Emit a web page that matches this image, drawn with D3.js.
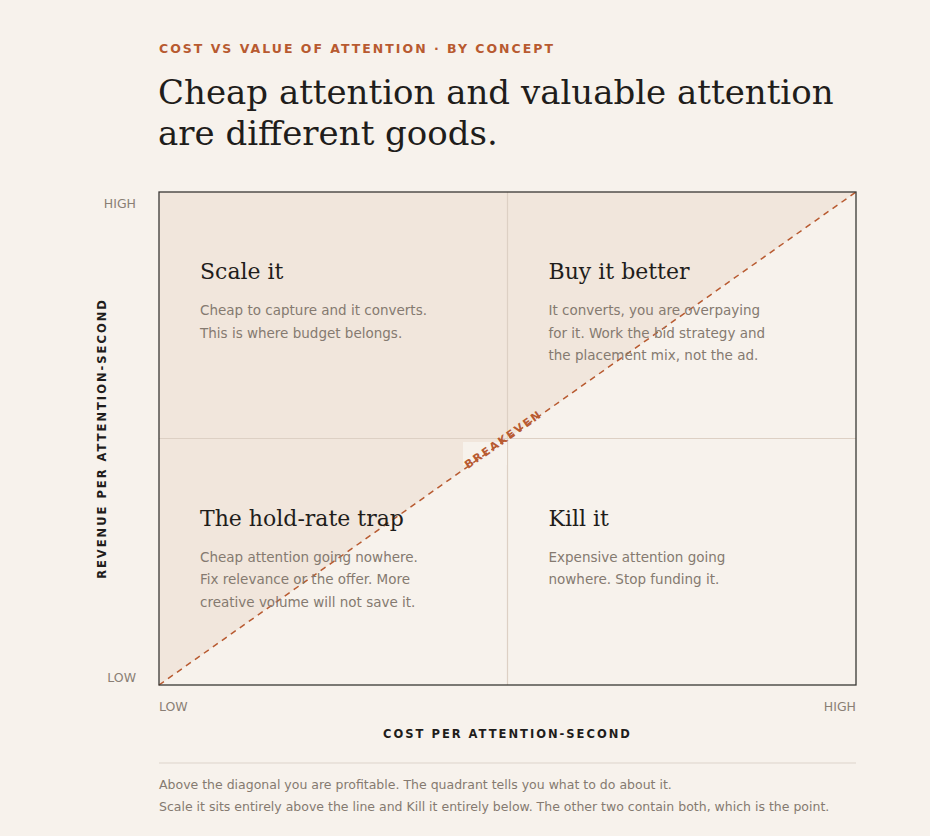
<!DOCTYPE html><html><head><meta charset="utf-8"><script src="https://cdn.jsdelivr.net/npm/d3@7"></script>
<style>body{margin:0;background:#f7f2ec;}svg{display:block}</style></head><body><svg id="c" width="930" height="836"></svg>
<script>
const axisTicks=["LOW","HIGH"];
const quadrants=[
 {cx:0,cy:1,title:"Scale it",lines:["Cheap to capture and it converts.","This is where budget belongs."]},
 {cx:1,cy:1,title:"Buy it better",lines:["It converts, you are overpaying","for it. Work the bid strategy and","the placement mix, not the ad."]},
 {cx:0,cy:0,title:"The hold-rate trap",lines:["Cheap attention going nowhere.","Fix relevance or the offer. More","creative volume will not save it."]},
 {cx:1,cy:0,title:"Kill it",lines:["Expensive attention going","nowhere. Stop funding it."]}
];
const breakeven=[[0,0],[1,1]];
const notes=["Above the diagonal you are profitable. The quadrant tells you what to do about it.","Scale it sits entirely above the line and Kill it entirely below. The other two contain both, which is the point."];
const svg=d3.select("#c");
const L=159,R=856,T=192,B=685;
const x=d3.scaleLinear().domain([0,1]).range([L,R]);
const y=d3.scaleLinear().domain([0,1]).range([B,T]);
const sans="'DejaVu Sans',sans-serif", serif="'DejaVu Serif',serif";
svg.append("text").attr("x",159).attr("y",53).attr("fill","#b85a30").attr("font-family",sans).attr("font-size",12.5).attr("font-weight","bold").attr("letter-spacing",2).text("COST VS VALUE OF ATTENTION · BY CONCEPT");
["Cheap attention and valuable attention","are different goods."].forEach((t,i)=>svg.append("text").attr("x",158).attr("y",104+i*41).attr("fill","#1f1d1b").attr("font-family",serif).attr("font-size",34).text(t));
// shaded triangle
svg.append("path").attr("d",d3.line()([[x(0),y(0)],[x(0),y(1)],[x(1),y(1)]])+"Z").attr("fill","#f1e6dc");
// gridlines
svg.append("line").attr("x1",x(0)).attr("x2",x(1)).attr("y1",y(.5)).attr("y2",y(.5)).attr("stroke","#ddd0c4").attr("stroke-width",1.2);
svg.append("line").attr("x1",x(.5)).attr("x2",x(.5)).attr("y1",y(1)).attr("y2",y(0)).attr("stroke","#ddd0c4").attr("stroke-width",1.2);
// label bg
svg.append("rect").attr("x",463).attr("y",442).attr("width",44).attr("height",23).attr("fill","#f7f2ec");
svg.append("path").attr("d",d3.line().x(d=>x(d[0])).y(d=>y(d[1]))(breakeven)).attr("stroke","#b85a30").attr("stroke-width",1.5).attr("stroke-dasharray","6,5").attr("fill","none");
const ang=-Math.atan2(B-T,R-L)*180/Math.PI;
svg.append("text").attr("transform",`translate(${x(.5)-2},${y(.5)+4}) rotate(${ang})`).attr("text-anchor","middle").attr("fill","#b85a30").attr("font-family",sans).attr("font-size",11).attr("font-weight","bold").attr("letter-spacing",2).text("BREAKEVEN");
svg.append("rect").attr("x",L).attr("y",T).attr("width",R-L).attr("height",B-T).attr("fill","none").attr("stroke","#3a3835").attr("stroke-width",1.3);
quadrants.forEach(q=>{
 const qx=x(q.cx*.5)+41, qy=y(q.cy*.5+.5)+87;
 svg.append("text").attr("x",qx).attr("y",qy).attr("fill","#1f1d1b").attr("font-family",serif).attr("font-size",22).text(q.title);
 q.lines.forEach((l,i)=>svg.append("text").attr("x",qx).attr("y",qy+36+i*22.5).attr("fill","#857a70").attr("font-family",sans).attr("font-size",13.5).text(l));
});
const tk={fill:"#8a7f75","font-family":sans,"font-size":12.5};
function ap(s,o){for(const k in o)s.attr(k,o[k]);return s;}
ap(svg.append("text").attr("x",L).attr("y",711),tk).text(axisTicks[0]);
ap(svg.append("text").attr("x",R).attr("y",711).attr("text-anchor","end"),tk).text(axisTicks[1]);
ap(svg.append("text").attr("x",136).attr("y",208).attr("text-anchor","end"),tk).text(axisTicks[1]);
ap(svg.append("text").attr("x",136).attr("y",682).attr("text-anchor","end"),tk).text(axisTicks[0]);
svg.append("text").attr("x",x(.5)).attr("y",738).attr("text-anchor","middle").attr("fill","#1f1d1b").attr("font-family",sans).attr("font-size",11.5).attr("font-weight","bold").attr("letter-spacing",2).text("COST PER ATTENTION-SECOND");
svg.append("text").attr("transform",`translate(106,${y(.5)}) rotate(-90)`).attr("text-anchor","middle").attr("fill","#1f1d1b").attr("font-family",sans).attr("font-size",11.5).attr("font-weight","bold").attr("letter-spacing",2).text("REVENUE PER ATTENTION-SECOND");
svg.append("line").attr("x1",L).attr("x2",R).attr("y1",763).attr("y2",763).attr("stroke","#ddd4cb");
notes.forEach((n,i)=>svg.append("text").attr("x",L).attr("y",789+i*21.5).attr("fill","#857a70").attr("font-family",sans).attr("font-size",12.5).text(n));
</script></body></html>
